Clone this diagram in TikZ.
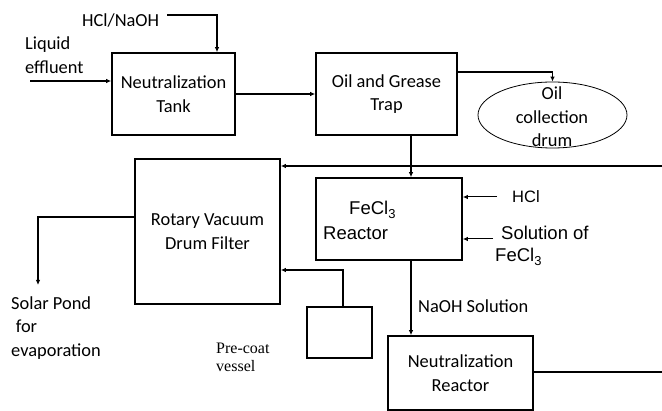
\documentclass[tikz,border=0pt]{standalone}
\usepackage{fontspec}
\setmainfont{Carlito}
\newfontfamily\arialf{Liberation Sans}
\newfontfamily\timesf{Liberation Serif}
\usetikzlibrary{arrows.meta,shapes.geometric}
\begin{document}
\begin{tikzpicture}[x=1pt,y=-1pt,
  box/.style={draw,line width=1.6pt,inner sep=0pt},
  txt/.style={font=\fontsize{18.4}{23.5}\selectfont,align=center,inner sep=0pt},
  ltxt/.style={font=\fontsize{18.4}{23.5}\selectfont,align=left,inner sep=0pt},
  atxt/.style={font=\arialf\fontsize{18.5}{22}\selectfont,inner sep=0pt},
  arr/.style={line width=1.4pt,-{Latex[length=5pt,width=4.5pt]}},
  tarr/.style={line width=1pt,-{Latex[length=5pt,width=4.5pt]}},
  pipe/.style={line width=1.1pt}]
\useasboundingbox (0,0) rectangle (662,411);
\fill[white] (0,0) rectangle (662,411);
% boxes
\node[box,txt,minimum width=123pt,minimum height=82pt] (nt) at (173.5,94) {Neutralization\\Tank};
\node[box,txt,minimum width=141pt,minimum height=82pt] (og) at (386.5,94) {Oil and Grease\\Trap};
\node[draw,ellipse,line width=0.8pt,inner sep=0pt,minimum width=149pt,minimum height=66pt] (oc) at (552.5,115) {};
\node[txt] (ocl) at (552,117) {Oil\\collection\\drum};
\node[box,txt,minimum width=145pt,minimum height=145pt] (rv) at (207.5,231.5) {Rotary Vacuum\\Drum Filter};
\node[box,minimum width=146pt,minimum height=82pt] (fr) at (389,219) {};
\node[atxt,anchor=base west] (frl1) at (349,215) {FeCl\textsubscript{3}};
\node[atxt,anchor=base west] (frl2) at (323,240) {Reactor};
\node[box,minimum width=65pt,minimum height=51pt] (pc) at (339.5,332.5) {};
\node[box,txt,minimum width=145pt,minimum height=74pt] (nr) at (460.5,373) {Neutralization\\Reactor};
% labels
\node[txt,anchor=base west] (hn) at (82,26.5) {HCl/NaOH};
\node[ltxt,anchor=west] (le) at (25,55) {Liquid\\effluent};
\node[ltxt,anchor=west] (sp) at (11,328) {Solar Pond\\\hspace*{0.25em}for\\evaporation};
\node[font=\timesf\fontsize{16}{18}\selectfont,align=left,inner sep=0pt,anchor=west] (pcl) at (216,357) {Pre-coat\\vessel};
\node[atxt,font=\arialf\fontsize{16.5}{20}\selectfont,anchor=west] (hcl) at (512,197) {HCl};
\node[atxt,anchor=base west] (so1) at (501,240) {Solution of};
\node[atxt,anchor=base west] (so2) at (495,262) {FeCl\textsubscript{3}};
\node[txt,anchor=base west] (ns) at (418,313) {NaOH Solution};
% free ends
\coordinate (hs) at (167,15);
\coordinate (lein) at (30,81);
\coordinate (r1) at (662,166);
\coordinate (r2) at (662,372);
\coordinate (h1) at (497,197);
\coordinate (s1) at (493,239);
\coordinate (spd) at (38,285);
% connectors
\draw[arr] (hs) -| ([xshift=43.5pt]nt.north);
\draw[arr] (lein) -- (lein -| nt.west);
\draw[arr] (nt.east) -- (og.west);
\draw[arr] ([yshift=22pt]og.east) -| (oc.north);
\draw[arr] ([xshift=24.5pt]og.south) -- ([xshift=24.5pt]og.south |- fr.north);
\draw[arr] (r1) -- (r1 -| rv.east);
\draw[pipe] (r2 -| nr.east) -- (r2);
\draw[tarr] (h1) -- (h1 -| fr.east);
\draw[tarr] (s1) -- (s1 -| fr.east);
\draw[arr] ([xshift=22pt]fr.south) -- ([xshift=22pt]fr.south |- nr.north);
\draw[arr] ([xshift=3.5pt]pc.north) |- ([yshift=-38.5pt]rv.east);
\draw[arr] ([yshift=14.5pt]rv.west) -| (spd);
\end{tikzpicture}
\end{document}
